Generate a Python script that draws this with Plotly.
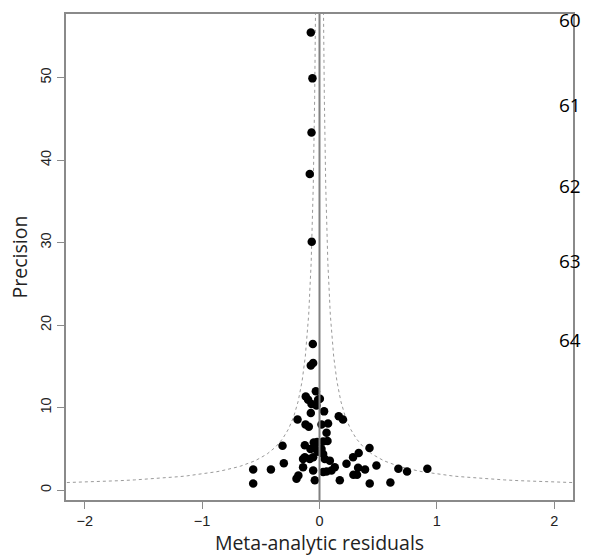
import numpy as np
import plotly.graph_objects as go

residuals = [
    -0.074, -0.060, -0.068, -0.083, -0.066, -0.057, -0.074, -0.054,
    -0.031, -0.117, -0.097, -0.068, -0.012, 0.003, -0.026,
    -0.074, 0.039, -0.187, 0.164, 0.200, -0.119, -0.091, 0.017, 0.073, 0.060,
    -0.125, -0.049, -0.020, 0.031, 0.068, -0.077, -0.040, 0.017, -0.012, 0.031,
    -0.125, -0.083, -0.054, -0.140, 0.045, 0.088, 0.286, 0.230, -0.140, -0.054,
    0.031, 0.060, 0.102, 0.130, -0.180, -0.196, -0.040, 0.173,
    -0.315, 0.426, 0.334, -0.304, 0.485, -0.565, -0.414, 0.672, 0.746, 0.919,
    0.329, 0.388, 0.289, 0.320, -0.565, 0.428, 0.604,
]
precision = [
    55.45, 49.9, 43.35, 38.3, 30.1, 17.7, 15.1, 15.4,
    12.0, 11.35, 10.95, 10.43, 10.95, 11.07, 10.27,
    9.35, 9.55, 8.56, 8.96, 8.56, 7.96, 7.68, 7.96, 8.08, 6.96,
    5.45, 5.77, 5.85, 5.89, 5.97, 4.98, 5.05, 4.98, 4.66, 4.38,
    3.98, 3.79, 3.98, 3.79, 3.79, 3.58, 3.98, 3.19, 2.78, 2.39,
    2.19, 2.27, 2.39, 2.78, 1.79, 1.40, 1.19, 1.19,
    5.37, 5.10, 4.50, 3.26, 2.98, 2.50, 2.50, 2.59, 2.27, 2.59,
    2.71, 2.50, 1.87, 1.87, 0.80, 0.80, 0.92,
]
x_ticks = [-2, -1, 0, 1, 2]
y_ticks = [0, 10, 20, 30, 40, 50]
line_numbers = ["60", "61", "62", "63", "64"]
line_number_y = [0.988, 0.813, 0.647, 0.492, 0.330]

z = 1.96
yy = np.linspace(0.85, 60, 600)

fig = go.Figure()
gray = "#8a8a8a"
fig.add_trace(go.Scatter(x=-z / yy, y=yy, mode="lines",
                         line=dict(color="#9a9a9a", width=1, dash="dot"),
                         hoverinfo="skip", showlegend=False))
fig.add_trace(go.Scatter(x=z / yy, y=yy, mode="lines",
                         line=dict(color="#9a9a9a", width=1, dash="dot"),
                         hoverinfo="skip", showlegend=False))
fig.add_shape(type="line", xref="x", yref="paper", x0=0, x1=0, y0=0, y1=1,
              line=dict(color="#808080", width=2))
fig.add_trace(go.Scatter(x=residuals, y=precision, mode="markers",
                         marker=dict(color="black", size=8.5),
                         showlegend=False))

for t, yp in zip(line_numbers, line_number_y):
    fig.add_annotation(text=t, xref="paper", yref="paper", x=0.994, y=yp,
                       showarrow=False, xanchor="center", yanchor="middle",
                       font=dict(family="Open Sans", size=19, color="black"))

fig.update_layout(
    width=589, height=558,
    margin=dict(l=66, r=16, t=12, b=53),
    plot_bgcolor="white", paper_bgcolor="white",
    font=dict(family="Liberation Sans", color="#222222"),
)
fig.update_xaxes(range=[-2.16, 2.16], tickvals=x_ticks,
                 ticktext=["\u22122", "\u22121", "0", "1", "2"],
                 showgrid=False, zeroline=False, showline=True, linecolor=gray,
                 linewidth=1.5, mirror=True, ticks="outside", ticklen=7,
                 tickcolor=gray, tickfont=dict(size=14.5, color="#222222"),
                 title=dict(text="Meta-analytic residuals", standoff=3,
                            font=dict(family="Open Sans", size=19.5, color="#222222")))
fig.update_yaxes(range=[-1.19, 57.7], tickvals=y_ticks, tickangle=-90,
                 showgrid=False, zeroline=False, showline=True, linecolor=gray,
                 linewidth=1.5, mirror=True, ticks="outside", ticklen=7,
                 tickcolor=gray, tickfont=dict(size=14.5, color="#222222"),
                 title=dict(text="Precision", standoff=6,
                            font=dict(family="Open Sans", size=19.5, color="#222222")))

fig.write_html("out.html", config={"displayModeBar": False},
               post_script="document.body.style.margin='0';")
